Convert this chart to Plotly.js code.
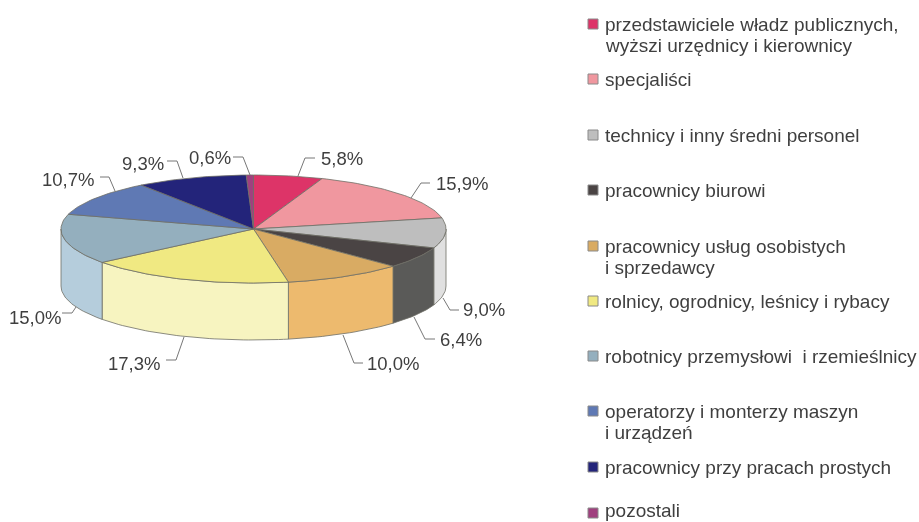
<!DOCTYPE html>
<html><head><meta charset="utf-8">
<script src="https://cdn.plot.ly/plotly-3.0.1.min.js"></script>
<style>html,body{margin:0;padding:0;background:#fff}#chart{width:919px;height:522px;filter:blur(0.45px)}</style>
</head><body><div id="chart"></div>
<script>
const categories = [
  "przedstawiciele władz publicznych,<br>wyższi urzędnicy i kierownicy",
  "specjaliści",
  "technicy i inny średni personel",
  "pracownicy biurowi",
  "pracownicy usług osobistych<br>i sprzedawcy",
  "rolnicy, ogrodnicy, leśnicy i rybacy",
  "robotnicy przemysłowi  i rzemieślnicy",
  "operatorzy i monterzy maszyn<br>i urządzeń",
  "pracownicy przy pracach prostych",
  "pozostali"
];
const values = [5.8, 15.9, 9.0, 6.4, 10.0, 17.3, 15.0, 10.7, 9.3, 0.6];
const topColors = ["#DD3468","#F0979F","#BEBEBE","#4A4444","#D9AB63","#F0E982","#94AFBE","#5F79B4","#23247A","#A0407F"];
const sideColors = ["#E8708F","#F6BCC0","#E0E0E0","#5A5A58","#EDBA6E","#F7F4C0","#B5CDDC","#8AA0CC","#4A4B98","#C070A0"];

// layout of the drawing, in the pixel scale of the hidden axes
const pie = {cx: 253.5, cy: 229, rx: 192.5, ry: 54, depth: 57};
const labelPos = [[342,158],[462,183],[484,309],[461,339],[393,363],[134,363],[35,317],[68,179],[143,163],[210,157]];
const leaders = [
  [[315,158],[305,158],[298,176]],
  [[430,183],[421,183],[411,198]],
  [[459,310],[450,310],[443,298]],
  [[435,339],[425,339],[414,317]],
  [[363,363],[354,363],[343,335]],
  [[166,360],[176,360],[184,337]],
  [[62,313],[72,313],[76,307]],
  [[100,177],[109,177],[115,191]],
  [[167,161],[177,161],[183,178]],
  [[233,157],[243,157],[250,175]]
];
const legendMarkY = [24,79,135,190,246,301,356,411,467,513];
const legendTextY = [24,79,135,190,246,301,356,411,467,510];
const legendLinePitch = 21.5;

const pctFmt = v => v.toFixed(1).replace(".", ",") + "%";
const rad = d => d * Math.PI / 180;
const px = d => pie.cx + pie.rx * Math.sin(rad(d));
const py = (d, drop) => pie.cy - pie.ry * Math.cos(rad(d)) + (drop || 0);
const arc = (a, b, drop) => {
  const n = Math.max(2, Math.ceil(Math.abs(b - a) / 1.5));
  const xs = [], ys = [];
  for (let i = 0; i <= n; i++) { const d = a + (b - a) * i / n; xs.push(px(d)); ys.push(py(d, drop)); }
  return [xs, ys];
};

const total = values.reduce((s, v) => s + v, 0);
let cum = 0;
const spans = values.map(v => { const a = cum / total * 360; cum += v; return [a, cum / total * 360]; });
const edge = {color: "#6e6e66", width: 0.8};
const traces = [];

// outer wall: only the front half of the rim is visible
spans.forEach(([a, b], i) => {
  const s = Math.max(a, 90), e = Math.min(b, 270);
  if (e <= s) return;
  const [x1, y1] = arc(s, e, 0), [x2, y2] = arc(e, s, pie.depth);
  traces.push({type: "scatter", mode: "lines", fill: "toself", fillcolor: sideColors[i], line: edge,
    x: [...x1, ...x2, x1[0]], y: [...y1, ...y2, y1[0]], hoverinfo: "skip", showlegend: false});
});
// top face
spans.forEach(([a, b], i) => {
  const [xa, ya] = arc(a, b, 0);
  traces.push({type: "scatter", mode: "lines", fill: "toself", fillcolor: topColors[i], line: edge,
    x: [pie.cx, ...xa, pie.cx], y: [pie.cy, ...ya, pie.cy], name: categories[i].replace("<br>", " "),
    text: pctFmt(values[i]), hoverinfo: "name+text", showlegend: false});
});
// leader lines
leaders.forEach(l => traces.push({type: "scatter", mode: "lines", line: {color: "#777", width: 1},
  x: l.map(p => p[0]), y: l.map(p => p[1]), hoverinfo: "skip", showlegend: false}));
// legend keys
traces.push({type: "scatter", mode: "markers", x: legendMarkY.map(() => 593), y: legendMarkY,
  marker: {symbol: "square", size: 10, color: topColors, line: {color: "#8a8a8a", width: 1}},
  hoverinfo: "skip", showlegend: false});

const labelFont = {family: "Liberation Sans, Arial, sans-serif", size: 18.5, color: "#3f3f3f"};
const legendFont = {family: "Liberation Sans, Arial, sans-serif", size: 19, color: "#3f3f3f"};
const annotations = [];
values.forEach((v, i) => annotations.push({x: labelPos[i][0], y: labelPos[i][1], text: pctFmt(v), showarrow: false,
  xanchor: "center", yanchor: "middle", font: labelFont}));
categories.forEach((c, i) => c.split("<br>").forEach((line, k) => annotations.push({
  x: 603, y: legendTextY[i] + k * legendLinePitch, text: line, showarrow: false,
  xanchor: "left", yanchor: "middle", align: "left", font: legendFont})));

Plotly.newPlot("chart", traces, {
  width: 919, height: 522, margin: {l: 0, r: 0, t: 0, b: 0},
  paper_bgcolor: "#fff", plot_bgcolor: "#fff", showlegend: false,
  xaxis: {visible: false, range: [0, 919], fixedrange: true},
  yaxis: {visible: false, range: [522, 0], fixedrange: true},
  annotations
}, {displayModeBar: false, staticPlot: true});
</script></body></html>
